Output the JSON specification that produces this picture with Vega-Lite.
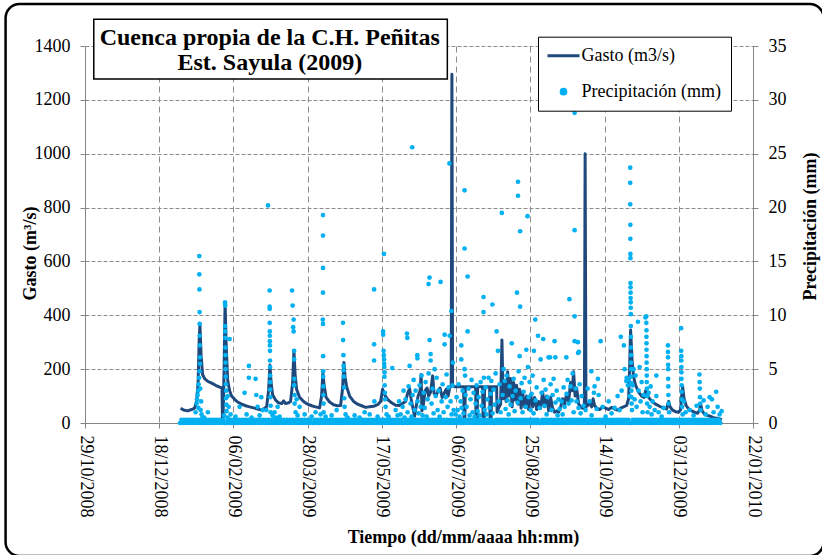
{
"$schema":"https://vega.github.io/schema/vega-lite/v6.json",
"width":668,"height":377,
"autosize":{"type":"none"},
"padding":{"left":85,"top":46,"right":69,"bottom":132},
"background":"white",
"config":{
 "font":"Liberation Serif",
 "view":{"stroke":null},
 "axis":{"labelFont":"Liberation Serif","labelFontSize":18,"labelColor":"black","titleFont":"Liberation Serif","titleFontSize":18,"titleFontWeight":"bold","titleColor":"black","domainColor":"#868686","tickColor":"#868686","tickSize":5,"gridColor":"#8C8C8C","gridWidth":1}
},
"datasets":{
"gasto":[
{"t":"2009-01-01T10:00","q":55},{"t":"2009-01-03T10:00","q":48},{"t":"2009-01-06T03:00","q":45},{"t":"2009-01-08T20:00","q":50},{"t":"2009-01-10T20:00","q":55},{"t":"2009-01-12T04:00","q":80},{"t":"2009-01-13T05:00","q":150},{"t":"2009-01-13T21:00","q":300},{"t":"2009-01-14T10:00","q":365},{"t":"2009-01-15T05:00","q":250},{"t":"2009-01-16T05:00","q":180},{"t":"2009-01-17T14:00","q":165},{"t":"2009-01-19T14:00","q":155},{"t":"2009-01-22T07:00","q":148},{"t":"2009-01-25T00:00","q":140},{"t":"2009-01-27T16:00","q":133},{"t":"2009-01-29T07:00","q":130},{"t":"2009-01-29T14:00","q":15},{"t":"2009-01-30T01:00","q":20},{"t":"2009-01-30T17:00","q":200},{"t":"2009-01-31T09:00","q":445},{"t":"2009-02-01T01:00","q":300},{"t":"2009-02-02T02:00","q":160},{"t":"2009-02-03T10:00","q":120},{"t":"2009-02-04T18:00","q":100},{"t":"2009-02-06T19:00","q":88},{"t":"2009-02-08T19:00","q":78},{"t":"2009-02-11T12:00","q":70},{"t":"2009-02-14T05:00","q":64},{"t":"2009-02-16T21:00","q":60},{"t":"2009-02-19T14:00","q":56},{"t":"2009-02-22T07:00","q":52},{"t":"2009-02-24T23:00","q":48},{"t":"2009-02-27T00:00","q":55},{"t":"2009-02-28T08:00","q":60},{"t":"2009-03-01T16:00","q":120},{"t":"2009-03-02T14:00","q":215},{"t":"2009-03-03T09:00","q":150},{"t":"2009-03-04T09:00","q":105},{"t":"2009-03-06T10:00","q":85},{"t":"2009-03-08T10:00","q":75},{"t":"2009-03-10T11:00","q":72},{"t":"2009-03-11T19:00","q":82},{"t":"2009-03-13T03:00","q":72},{"t":"2009-03-15T04:00","q":75},{"t":"2009-03-16T12:00","q":80},{"t":"2009-03-17T21:00","q":150},{"t":"2009-03-18T18:00","q":268},{"t":"2009-03-19T13:00","q":180},{"t":"2009-03-20T13:00","q":125},{"t":"2009-03-22T14:00","q":95},{"t":"2009-03-25T06:00","q":80},{"t":"2009-03-27T23:00","q":70},{"t":"2009-03-30T16:00","q":64},{"t":"2009-04-02T08:00","q":60},{"t":"2009-04-05T01:00","q":56},{"t":"2009-04-06T09:00","q":100},{"t":"2009-04-07T06:00","q":185},{"t":"2009-04-08T02:00","q":140},{"t":"2009-04-09T10:00","q":95},{"t":"2009-04-11T19:00","q":78},{"t":"2009-04-14T11:00","q":68},{"t":"2009-04-17T04:00","q":64},{"t":"2009-04-19T05:00","q":65},{"t":"2009-04-20T13:00","q":130},{"t":"2009-04-21T10:00","q":225},{"t":"2009-04-22T05:00","q":170},{"t":"2009-04-23T06:00","q":135},{"t":"2009-04-25T06:00","q":100},{"t":"2009-04-27T23:00","q":80},{"t":"2009-04-30T15:00","q":70},{"t":"2009-05-03T08:00","q":64},{"t":"2009-05-06T01:00","q":58},{"t":"2009-05-08T17:00","q":60},{"t":"2009-05-11T10:00","q":62},{"t":"2009-05-14T03:00","q":68},{"t":"2009-05-16T03:00","q":80},{"t":"2009-05-17T12:00","q":125},{"t":"2009-05-18T20:00","q":105},{"t":"2009-05-20T20:00","q":88},{"t":"2009-05-23T13:00","q":75},{"t":"2009-05-26T06:00","q":66},{"t":"2009-05-28T23:00","q":65},{"t":"2009-05-31T15:00","q":75},{"t":"2009-06-02T00:00","q":80},{"t":"2009-06-03T08:00","q":110},{"t":"2009-06-04T16:00","q":128},{"t":"2009-06-05T16:00","q":90},{"t":"2009-06-06T17:00","q":60},{"t":"2009-06-08T01:00","q":25},{"t":"2009-06-09T01:00","q":60},{"t":"2009-06-10T10:00","q":100},{"t":"2009-06-11T18:00","q":120},{"t":"2009-06-12T10:00","q":180},{"t":"2009-06-12T23:00","q":45},{"t":"2009-06-13T18:00","q":60},{"t":"2009-06-15T03:00","q":120},{"t":"2009-06-16T11:00","q":130},{"t":"2009-06-17T11:00","q":100},{"t":"2009-06-18T20:00","q":115},{"t":"2009-06-20T04:00","q":175},{"t":"2009-06-21T04:00","q":110},{"t":"2009-06-22T13:00","q":100},{"t":"2009-06-23T21:00","q":120},{"t":"2009-06-25T05:00","q":130},{"t":"2009-06-26T14:00","q":95},{"t":"2009-06-27T22:00","q":110},{"t":"2009-06-29T06:00","q":125},{"t":"2009-06-30T15:00","q":100},{"t":"2009-07-01T15:00","q":128},{"t":"2009-07-02T07:00","q":135},{"t":"2009-07-02T17:00","q":140},{"t":"2009-07-03T04:00","q":1295},{"t":"2009-07-03T15:00","q":140},{"t":"2009-07-05T00:00","q":135},{"t":"2009-07-11T01:00","q":135},{"t":"2009-07-11T09:00","q":10},{"t":"2009-07-11T21:00","q":10},{"t":"2009-07-12T05:00","q":135},{"t":"2009-07-19T03:00","q":135},{"t":"2009-07-19T11:00","q":5},{"t":"2009-07-20T04:00","q":5},{"t":"2009-07-20T12:00","q":135},{"t":"2009-07-23T20:00","q":135},{"t":"2009-07-24T05:00","q":5},{"t":"2009-07-24T21:00","q":5},{"t":"2009-07-25T05:00","q":135},{"t":"2009-07-28T14:00","q":135},{"t":"2009-07-28T22:00","q":5},{"t":"2009-07-29T14:00","q":5},{"t":"2009-07-29T22:00","q":135},{"t":"2009-08-02T07:00","q":135},{"t":"2009-08-02T15:00","q":40},{"t":"2009-08-03T15:00","q":55},{"t":"2009-08-05T00:00","q":70},{"t":"2009-08-05T21:00","q":308},{"t":"2009-08-06T16:00","q":90},{"t":"2009-08-07T16:00","q":150},{"t":"2009-08-08T16:00","q":80},{"t":"2009-08-09T17:00","q":190},{"t":"2009-08-10T17:00","q":100},{"t":"2009-08-11T17:00","q":165},{"t":"2009-08-12T17:00","q":60},{"t":"2009-08-13T18:00","q":150},{"t":"2009-08-14T18:00","q":85},{"t":"2009-08-15T18:00","q":140},{"t":"2009-08-16T18:00","q":70},{"t":"2009-08-17T19:00","q":125},{"t":"2009-08-18T19:00","q":55},{"t":"2009-08-19T19:00","q":115},{"t":"2009-08-21T04:00","q":60},{"t":"2009-08-22T12:00","q":100},{"t":"2009-08-23T20:00","q":50},{"t":"2009-08-25T05:00","q":105},{"t":"2009-08-26T13:00","q":60},{"t":"2009-08-27T21:00","q":95},{"t":"2009-08-29T06:00","q":50},{"t":"2009-08-30T14:00","q":80},{"t":"2009-08-31T22:00","q":55},{"t":"2009-09-02T07:00","q":115},{"t":"2009-09-03T15:00","q":60},{"t":"2009-09-04T23:00","q":100},{"t":"2009-09-06T08:00","q":45},{"t":"2009-09-07T16:00","q":95},{"t":"2009-09-09T00:00","q":55},{"t":"2009-09-10T09:00","q":40},{"t":"2009-09-11T17:00","q":45},{"t":"2009-09-13T01:00","q":40},{"t":"2009-09-14T10:00","q":60},{"t":"2009-09-15T18:00","q":90},{"t":"2009-09-17T02:00","q":70},{"t":"2009-09-18T11:00","q":110},{"t":"2009-09-19T19:00","q":80},{"t":"2009-09-21T03:00","q":150},{"t":"2009-09-22T04:00","q":120},{"t":"2009-09-23T04:00","q":190},{"t":"2009-09-24T04:00","q":100},{"t":"2009-09-25T04:00","q":130},{"t":"2009-09-26T13:00","q":70},{"t":"2009-09-27T21:00","q":60},{"t":"2009-09-29T05:00","q":55},{"t":"2009-09-30T10:00","q":60},{"t":"2009-09-30T22:00","q":1000},{"t":"2009-10-01T11:00","q":60},{"t":"2009-10-02T14:00","q":65},{"t":"2009-10-03T22:00","q":75},{"t":"2009-10-05T07:00","q":60},{"t":"2009-10-06T07:00","q":90},{"t":"2009-10-07T07:00","q":65},{"t":"2009-10-08T16:00","q":55},{"t":"2009-10-10T16:00","q":50},{"t":"2009-10-12T17:00","q":60},{"t":"2009-10-14T17:00","q":55},{"t":"2009-10-16T18:00","q":50},{"t":"2009-10-18T18:00","q":58},{"t":"2009-10-20T19:00","q":52},{"t":"2009-10-22T19:00","q":48},{"t":"2009-10-24T20:00","q":55},{"t":"2009-10-26T20:00","q":60},{"t":"2009-10-28T21:00","q":65},{"t":"2009-10-30T05:00","q":90},{"t":"2009-10-30T21:00","q":200},{"t":"2009-10-31T13:00","q":345},{"t":"2009-11-01T14:00","q":230},{"t":"2009-11-02T14:00","q":170},{"t":"2009-11-03T22:00","q":140},{"t":"2009-11-05T23:00","q":115},{"t":"2009-11-07T23:00","q":100},{"t":"2009-11-09T16:00","q":95},{"t":"2009-11-10T16:00","q":120},{"t":"2009-11-11T16:00","q":105},{"t":"2009-11-13T09:00","q":90},{"t":"2009-11-15T09:00","q":78},{"t":"2009-11-17T10:00","q":70},{"t":"2009-11-20T02:00","q":62},{"t":"2009-11-22T19:00","q":56},{"t":"2009-11-24T19:00","q":52},{"t":"2009-11-26T04:00","q":80},{"t":"2009-11-27T04:00","q":60},{"t":"2009-11-28T20:00","q":48},{"t":"2009-11-30T21:00","q":42},{"t":"2009-12-02T21:00","q":40},{"t":"2009-12-04T06:00","q":50},{"t":"2009-12-04T22:00","q":100},{"t":"2009-12-05T14:00","q":135},{"t":"2009-12-06T14:00","q":90},{"t":"2009-12-07T23:00","q":65},{"t":"2009-12-09T15:00","q":52},{"t":"2009-12-11T16:00","q":45},{"t":"2009-12-13T16:00","q":40},{"t":"2009-12-15T17:00","q":36},{"t":"2009-12-17T01:00","q":48},{"t":"2009-12-17T17:00","q":70},{"t":"2009-12-18T17:00","q":45},{"t":"2009-12-20T10:00","q":32},{"t":"2009-12-22T10:00","q":28},{"t":"2009-12-24T11:00","q":24},{"t":"2009-12-26T11:00","q":20},{"t":"2009-12-28T12:00","q":18},{"t":"2009-12-30T12:00","q":15},{"t":"2009-12-31T23:00","q":12}
],
"precip":[
{"t":"2009-01-01","p":0},{"t":"2009-01-02","p":0.3},{"t":"2009-01-03","p":0},{"t":"2009-01-04","p":0.3},{"t":"2009-01-05","p":0},{"t":"2009-01-06","p":0.3},{"t":"2009-01-07","p":0},{"t":"2009-01-08","p":0.3},{"t":"2009-01-09","p":0},{"t":"2009-01-10","p":0.3},{"t":"2009-01-11","p":0},{"t":"2009-01-12","p":0.3},{"t":"2009-01-13","p":0},{"t":"2009-01-14","p":0.3},{"t":"2009-01-15","p":0},{"t":"2009-01-16","p":0.3},{"t":"2009-01-17","p":0},{"t":"2009-01-18","p":0.3},{"t":"2009-01-19","p":0},{"t":"2009-01-20","p":0.3},{"t":"2009-01-21","p":0},{"t":"2009-01-22","p":0.3},{"t":"2009-01-23","p":0},{"t":"2009-01-24","p":0.3},{"t":"2009-01-25","p":0},{"t":"2009-01-26","p":0.3},{"t":"2009-01-27","p":0},{"t":"2009-01-28","p":0.3},{"t":"2009-01-29","p":0},{"t":"2009-01-30","p":0.3},{"t":"2009-01-31","p":0},
{"t":"2009-02-01","p":0},{"t":"2009-02-02","p":0.3},{"t":"2009-02-03","p":0},{"t":"2009-02-04","p":0.3},{"t":"2009-02-05","p":0},{"t":"2009-02-06","p":0.3},{"t":"2009-02-07","p":0},{"t":"2009-02-08","p":0.3},{"t":"2009-02-09","p":0},{"t":"2009-02-10","p":0.3},{"t":"2009-02-11","p":0},{"t":"2009-02-12","p":0.3},{"t":"2009-02-13","p":0},{"t":"2009-02-14","p":0.3},{"t":"2009-02-15","p":0},{"t":"2009-02-16","p":0.3},{"t":"2009-02-17","p":0},{"t":"2009-02-18","p":0.3},{"t":"2009-02-19","p":0},{"t":"2009-02-20","p":0.3},{"t":"2009-02-21","p":0},{"t":"2009-02-22","p":0.3},{"t":"2009-02-23","p":0},{"t":"2009-02-24","p":0.3},{"t":"2009-02-25","p":0},{"t":"2009-02-26","p":0.3},{"t":"2009-02-27","p":0},{"t":"2009-02-28","p":0.3},
{"t":"2009-03-01","p":0},{"t":"2009-03-02","p":0.3},{"t":"2009-03-03","p":0},{"t":"2009-03-04","p":0.3},{"t":"2009-03-05","p":0},{"t":"2009-03-06","p":0.3},{"t":"2009-03-07","p":0},{"t":"2009-03-08","p":0.3},{"t":"2009-03-09","p":0},{"t":"2009-03-10","p":0.3},{"t":"2009-03-11","p":0},{"t":"2009-03-12","p":0.3},{"t":"2009-03-13","p":0},{"t":"2009-03-14","p":0.3},{"t":"2009-03-15","p":0},{"t":"2009-03-16","p":0.3},{"t":"2009-03-17","p":0},{"t":"2009-03-18","p":0.3},{"t":"2009-03-19","p":0},{"t":"2009-03-20","p":0.3},{"t":"2009-03-21","p":0},{"t":"2009-03-22","p":0.3},{"t":"2009-03-23","p":0},{"t":"2009-03-24","p":0.3},{"t":"2009-03-25","p":0},{"t":"2009-03-26","p":0.3},{"t":"2009-03-27","p":0},{"t":"2009-03-28","p":0.3},{"t":"2009-03-29","p":0},{"t":"2009-03-30","p":0.3},{"t":"2009-03-31","p":0},
{"t":"2009-04-01","p":0},{"t":"2009-04-02","p":0.3},{"t":"2009-04-03","p":0},{"t":"2009-04-04","p":0.3},{"t":"2009-04-05","p":0},{"t":"2009-04-06","p":0.3},{"t":"2009-04-07","p":0},{"t":"2009-04-08","p":0.3},{"t":"2009-04-09","p":0},{"t":"2009-04-10","p":0.3},{"t":"2009-04-11","p":0},{"t":"2009-04-12","p":0.3},{"t":"2009-04-13","p":0},{"t":"2009-04-14","p":0.3},{"t":"2009-04-15","p":0},{"t":"2009-04-16","p":0.3},{"t":"2009-04-17","p":0},{"t":"2009-04-18","p":0.3},{"t":"2009-04-19","p":0},{"t":"2009-04-20","p":0.3},{"t":"2009-04-21","p":0},{"t":"2009-04-22","p":0.3},{"t":"2009-04-23","p":0},{"t":"2009-04-24","p":0.3},{"t":"2009-04-25","p":0},{"t":"2009-04-26","p":0.3},{"t":"2009-04-27","p":0},{"t":"2009-04-28","p":0.3},{"t":"2009-04-29","p":0},{"t":"2009-04-30","p":0.3},
{"t":"2009-05-01","p":0},{"t":"2009-05-02","p":0.3},{"t":"2009-05-03","p":0},{"t":"2009-05-04","p":0.3},{"t":"2009-05-05","p":0},{"t":"2009-05-06","p":0.3},{"t":"2009-05-07","p":0},{"t":"2009-05-08","p":0.3},{"t":"2009-05-09","p":0},{"t":"2009-05-10","p":0.3},{"t":"2009-05-11","p":0},{"t":"2009-05-12","p":0.3},{"t":"2009-05-13","p":0},{"t":"2009-05-14","p":0.3},{"t":"2009-05-15","p":0},{"t":"2009-05-16","p":0.3},{"t":"2009-05-17","p":0},{"t":"2009-05-18","p":0.3},{"t":"2009-05-19","p":0},{"t":"2009-05-20","p":0.3},{"t":"2009-05-21","p":0},{"t":"2009-05-22","p":0.3},{"t":"2009-05-23","p":0},{"t":"2009-05-24","p":0.3},{"t":"2009-05-25","p":0},{"t":"2009-05-26","p":0.3},{"t":"2009-05-27","p":0},{"t":"2009-05-28","p":0.3},{"t":"2009-05-29","p":0},{"t":"2009-05-30","p":0.3},{"t":"2009-05-31","p":0},
{"t":"2009-06-01","p":0},{"t":"2009-06-02","p":0.3},{"t":"2009-06-03","p":0},{"t":"2009-06-04","p":0.3},{"t":"2009-06-05","p":0},{"t":"2009-06-06","p":0.3},{"t":"2009-06-07","p":0},{"t":"2009-06-08","p":0.3},{"t":"2009-06-09","p":0},{"t":"2009-06-10","p":0.3},{"t":"2009-06-11","p":0},{"t":"2009-06-12","p":0.3},{"t":"2009-06-13","p":0},{"t":"2009-06-14","p":0.3},{"t":"2009-06-15","p":0},{"t":"2009-06-16","p":0.3},{"t":"2009-06-17","p":0},{"t":"2009-06-18","p":0.3},{"t":"2009-06-19","p":0},{"t":"2009-06-20","p":0.3},{"t":"2009-06-21","p":0},{"t":"2009-06-22","p":0.3},{"t":"2009-06-23","p":0},{"t":"2009-06-24","p":0.3},{"t":"2009-06-25","p":0},{"t":"2009-06-26","p":0.3},{"t":"2009-06-27","p":0},{"t":"2009-06-28","p":0.3},{"t":"2009-06-29","p":0},{"t":"2009-06-30","p":0.3},
{"t":"2009-07-01","p":0},{"t":"2009-07-02","p":0.3},{"t":"2009-07-03","p":0},{"t":"2009-07-04","p":0.3},{"t":"2009-07-05","p":0},{"t":"2009-07-06","p":0.3},{"t":"2009-07-07","p":0},{"t":"2009-07-08","p":0.3},{"t":"2009-07-09","p":0},{"t":"2009-07-10","p":0.3},{"t":"2009-07-11","p":0},{"t":"2009-07-12","p":0.3},{"t":"2009-07-13","p":0},{"t":"2009-07-14","p":0.3},{"t":"2009-07-15","p":0},{"t":"2009-07-16","p":0.3},{"t":"2009-07-17","p":0},{"t":"2009-07-18","p":0.3},{"t":"2009-07-19","p":0},{"t":"2009-07-20","p":0.3},{"t":"2009-07-21","p":0},{"t":"2009-07-22","p":0.3},{"t":"2009-07-23","p":0},{"t":"2009-07-24","p":0.3},{"t":"2009-07-25","p":0},{"t":"2009-07-26","p":0.3},{"t":"2009-07-27","p":0},{"t":"2009-07-28","p":0.3},{"t":"2009-07-29","p":0},{"t":"2009-07-30","p":0.3},{"t":"2009-07-31","p":0},
{"t":"2009-08-01","p":0},{"t":"2009-08-02","p":0.3},{"t":"2009-08-03","p":0},{"t":"2009-08-04","p":0.3},{"t":"2009-08-05","p":0},{"t":"2009-08-06","p":0.3},{"t":"2009-08-07","p":0},{"t":"2009-08-08","p":0.3},{"t":"2009-08-09","p":0},{"t":"2009-08-10","p":0.3},{"t":"2009-08-11","p":0},{"t":"2009-08-12","p":0.3},{"t":"2009-08-13","p":0},{"t":"2009-08-14","p":0.3},{"t":"2009-08-15","p":0},{"t":"2009-08-16","p":0.3},{"t":"2009-08-17","p":0},{"t":"2009-08-18","p":0.3},{"t":"2009-08-19","p":0},{"t":"2009-08-20","p":0.3},{"t":"2009-08-21","p":0},{"t":"2009-08-22","p":0.3},{"t":"2009-08-23","p":0},{"t":"2009-08-24","p":0.3},{"t":"2009-08-25","p":0},{"t":"2009-08-26","p":0.3},{"t":"2009-08-27","p":0},{"t":"2009-08-28","p":0.3},{"t":"2009-08-29","p":0},{"t":"2009-08-30","p":0.3},{"t":"2009-08-31","p":0},
{"t":"2009-09-01","p":0},{"t":"2009-09-02","p":0.3},{"t":"2009-09-03","p":0},{"t":"2009-09-04","p":0.3},{"t":"2009-09-05","p":0},{"t":"2009-09-06","p":0.3},{"t":"2009-09-07","p":0},{"t":"2009-09-08","p":0.3},{"t":"2009-09-09","p":0},{"t":"2009-09-10","p":0.3},{"t":"2009-09-11","p":0},{"t":"2009-09-12","p":0.3},{"t":"2009-09-13","p":0},{"t":"2009-09-14","p":0.3},{"t":"2009-09-15","p":0},{"t":"2009-09-16","p":0.3},{"t":"2009-09-17","p":0},{"t":"2009-09-18","p":0.3},{"t":"2009-09-19","p":0},{"t":"2009-09-20","p":0.3},{"t":"2009-09-21","p":0},{"t":"2009-09-22","p":0.3},{"t":"2009-09-23","p":0},{"t":"2009-09-24","p":0.3},{"t":"2009-09-25","p":0},{"t":"2009-09-26","p":0.3},{"t":"2009-09-27","p":0},{"t":"2009-09-28","p":0.3},{"t":"2009-09-29","p":0},{"t":"2009-09-30","p":0.3},
{"t":"2009-10-01","p":0},{"t":"2009-10-02","p":0.3},{"t":"2009-10-03","p":0},{"t":"2009-10-04","p":0.3},{"t":"2009-10-05","p":0},{"t":"2009-10-06","p":0.3},{"t":"2009-10-07","p":0},{"t":"2009-10-08","p":0.3},{"t":"2009-10-09","p":0},{"t":"2009-10-10","p":0.3},{"t":"2009-10-11","p":0},{"t":"2009-10-12","p":0.3},{"t":"2009-10-13","p":0},{"t":"2009-10-14","p":0.3},{"t":"2009-10-15","p":0},{"t":"2009-10-16","p":0.3},{"t":"2009-10-17","p":0},{"t":"2009-10-18","p":0.3},{"t":"2009-10-19","p":0},{"t":"2009-10-20","p":0.3},{"t":"2009-10-21","p":0},{"t":"2009-10-22","p":0.3},{"t":"2009-10-23","p":0},{"t":"2009-10-24","p":0.3},{"t":"2009-10-25","p":0},{"t":"2009-10-26","p":0.3},{"t":"2009-10-27","p":0},{"t":"2009-10-28","p":0.3},{"t":"2009-10-29","p":0},{"t":"2009-10-30","p":0.3},{"t":"2009-10-31","p":0},
{"t":"2009-11-01","p":0},{"t":"2009-11-02","p":0.3},{"t":"2009-11-03","p":0},{"t":"2009-11-04","p":0.3},{"t":"2009-11-05","p":0},{"t":"2009-11-06","p":0.3},{"t":"2009-11-07","p":0},{"t":"2009-11-08","p":0.3},{"t":"2009-11-09","p":0},{"t":"2009-11-10","p":0.3},{"t":"2009-11-11","p":0},{"t":"2009-11-12","p":0.3},{"t":"2009-11-13","p":0},{"t":"2009-11-14","p":0.3},{"t":"2009-11-15","p":0},{"t":"2009-11-16","p":0.3},{"t":"2009-11-17","p":0},{"t":"2009-11-18","p":0.3},{"t":"2009-11-19","p":0},{"t":"2009-11-20","p":0.3},{"t":"2009-11-21","p":0},{"t":"2009-11-22","p":0.3},{"t":"2009-11-23","p":0},{"t":"2009-11-24","p":0.3},{"t":"2009-11-25","p":0},{"t":"2009-11-26","p":0.3},{"t":"2009-11-27","p":0},{"t":"2009-11-28","p":0.3},{"t":"2009-11-29","p":0},{"t":"2009-11-30","p":0.3},
{"t":"2009-12-01","p":0},{"t":"2009-12-02","p":0.3},{"t":"2009-12-03","p":0},{"t":"2009-12-04","p":0.3},{"t":"2009-12-05","p":0},{"t":"2009-12-06","p":0.3},{"t":"2009-12-07","p":0},{"t":"2009-12-08","p":0.3},{"t":"2009-12-09","p":0},{"t":"2009-12-10","p":0.3},{"t":"2009-12-11","p":0},{"t":"2009-12-12","p":0.3},{"t":"2009-12-13","p":0},{"t":"2009-12-14","p":0.3},{"t":"2009-12-15","p":0},{"t":"2009-12-16","p":0.3},{"t":"2009-12-17","p":0},{"t":"2009-12-18","p":0.3},{"t":"2009-12-19","p":0},{"t":"2009-12-20","p":0.3},{"t":"2009-12-21","p":0},{"t":"2009-12-22","p":0.3},{"t":"2009-12-23","p":0},{"t":"2009-12-24","p":0.3},{"t":"2009-12-25","p":0},{"t":"2009-12-26","p":0.3},{"t":"2009-12-27","p":0},{"t":"2009-12-28","p":0.3},{"t":"2009-12-29","p":0},{"t":"2009-12-30","p":0.3},{"t":"2009-12-31","p":0},
{"t":"2009-01-14T00:00","p":15.5},{"t":"2009-01-14T00:00","p":13.8},{"t":"2009-01-14T02:00","p":12.4},{"t":"2009-01-14T05:00","p":10.3},{"t":"2009-01-14T05:00","p":9.2},{"t":"2009-01-14T06:00","p":8.1},{"t":"2009-01-14T08:00","p":7.2},{"t":"2009-01-14T10:00","p":6.1},{"t":"2009-01-14T11:00","p":5.5},{"t":"2009-01-14T05:00","p":4.8},{"t":"2009-01-13T21:00","p":4.2},{"t":"2009-01-13T13:00","p":3.6},{"t":"2009-01-13T05:00","p":3.0},{"t":"2009-01-12T21:00","p":2.6},{"t":"2009-01-12T12:00","p":2.2},{"t":"2009-01-12T04:00","p":1.8},{"t":"2009-01-13T10:00","p":1.4},{"t":"2009-01-14T21:00","p":1.2},{"t":"2009-01-15T13:00","p":0.8},{"t":"2009-01-16T05:00","p":0.5},{"t":"2009-01-11T12:00","p":1.0},{"t":"2009-01-17T06:00","p":0.5},{"t":"2009-01-19T19:00","p":1.0},{"t":"2009-01-15T05:00","p":2.0},{"t":"2009-01-14T15:00","p":3.2},
{"t":"2009-01-31T08:00","p":11.2},{"t":"2009-01-31T11:00","p":10.9},{"t":"2009-01-31T09:00","p":9.0},{"t":"2009-01-31T11:00","p":8.5},{"t":"2009-01-31T12:00","p":7.9},{"t":"2009-01-31T14:00","p":7.0},{"t":"2009-01-31T17:00","p":6.3},{"t":"2009-01-31T17:00","p":5.6},{"t":"2009-01-31T17:00","p":5.0},{"t":"2009-01-31T20:00","p":4.3},{"t":"2009-01-31T22:00","p":3.6},{"t":"2009-02-01T01:00","p":3.0},{"t":"2009-01-31T23:00","p":2.3},{"t":"2009-02-01T06:00","p":1.7},{"t":"2009-02-01T09:00","p":1.1},{"t":"2009-01-30T17:00","p":0.7},{"t":"2009-02-02T02:00","p":0.5},{"t":"2009-02-03T10:00","p":7.8},{"t":"2009-02-02T02:00","p":2.5},{"t":"2009-02-02T18:00","p":1.5},{"t":"2009-02-04T02:00","p":0.8},
{"t":"2009-02-07T11:00","p":0.6},{"t":"2009-02-10T04:00","p":1.5},{"t":"2009-02-13T12:00","p":2.8},{"t":"2009-02-14T21:00","p":0.8},{"t":"2009-02-16T10:00","p":5.3},{"t":"2009-02-16T10:00","p":4.2},{"t":"2009-02-18T06:00","p":0.5},{"t":"2009-02-20T22:00","p":4.1},{"t":"2009-02-21T10:00","p":2.6},{"t":"2009-02-22T07:00","p":1.5},{"t":"2009-02-23T15:00","p":0.7},{"t":"2009-02-24T18:00","p":2.4},{"t":"2009-02-25T15:00","p":1.2},{"t":"2009-02-28T03:00","p":1.2},
{"t":"2009-03-01T07:00","p":20.2},{"t":"2009-03-02T09:00","p":12.3},{"t":"2009-03-02T09:00","p":10.8},{"t":"2009-03-02T10:00","p":10.6},{"t":"2009-03-02T10:00","p":9.3},{"t":"2009-03-02T12:00","p":8.5},{"t":"2009-03-02T12:00","p":8.1},{"t":"2009-03-02T13:00","p":7.6},{"t":"2009-03-02T13:00","p":7.2},{"t":"2009-03-02T15:00","p":6.7},{"t":"2009-03-02T15:00","p":5.8},{"t":"2009-03-02T17:00","p":5.2},{"t":"2009-03-02T17:00","p":4.4},{"t":"2009-03-02T18:00","p":3.8},{"t":"2009-03-02T18:00","p":3.1},{"t":"2009-03-02T20:00","p":2.4},{"t":"2009-03-03T01:00","p":1.6},{"t":"2009-03-03T01:00","p":1.0},{"t":"2009-03-04T09:00","p":0.7},{"t":"2009-03-05T17:00","p":1.0},{"t":"2009-03-06T10:00","p":0.5},{"t":"2009-03-07T18:00","p":1.5},{"t":"2009-03-09T02:00","p":0.6},
{"t":"2009-03-17T12:00","p":12.3},{"t":"2009-03-17T21:00","p":10.9},{"t":"2009-03-18T13:00","p":9.6},{"t":"2009-03-18T05:00","p":8.9},{"t":"2009-03-18T13:00","p":8.5},{"t":"2009-03-18T21:00","p":6.7},{"t":"2009-03-18T21:00","p":5.9},{"t":"2009-03-19T00:00","p":4.1},{"t":"2009-03-18T21:00","p":3.5},{"t":"2009-03-19T05:00","p":2.6},{"t":"2009-03-19T05:00","p":1.8},{"t":"2009-03-19T21:00","p":1.0},{"t":"2009-03-21T05:00","p":0.7},{"t":"2009-03-22T14:00","p":1.5},{"t":"2009-03-20T13:00","p":2.2},{"t":"2009-03-25T23:00","p":0.8},{"t":"2009-03-30T16:00","p":0.6},{"t":"2009-04-02T08:00","p":1.0},
{"t":"2009-04-07T08:00","p":19.3},{"t":"2009-04-07T08:00","p":17.4},{"t":"2009-04-07T08:00","p":14.4},{"t":"2009-04-07T08:00","p":12.1},{"t":"2009-04-07T05:00","p":9.6},{"t":"2009-04-07T08:00","p":9.2},{"t":"2009-04-07T10:00","p":6.2},{"t":"2009-04-07T11:00","p":4.8},{"t":"2009-04-07T11:00","p":4.3},{"t":"2009-04-07T13:00","p":3.4},{"t":"2009-04-07T14:00","p":2.6},{"t":"2009-04-07T18:00","p":1.8},{"t":"2009-04-07T18:00","p":1.0},{"t":"2009-04-09T02:00","p":0.6},{"t":"2009-04-05T17:00","p":0.8},{"t":"2009-04-13T03:00","p":0.7},{"t":"2009-04-16T12:00","p":1.2},
{"t":"2009-04-20T19:00","p":9.3},{"t":"2009-04-20T21:00","p":7.7},{"t":"2009-04-21T02:00","p":6.3},{"t":"2009-04-21T05:00","p":5.3},{"t":"2009-04-21T05:00","p":4.9},{"t":"2009-04-21T08:00","p":4.3},{"t":"2009-04-21T12:00","p":3.3},{"t":"2009-04-21T15:00","p":2.3},{"t":"2009-04-21T21:00","p":1.5},{"t":"2009-04-22T13:00","p":0.8},{"t":"2009-04-23T22:00","p":0.5},{"t":"2009-04-28T15:00","p":0.7},
{"t":"2009-05-01T23:00","p":0.5},{"t":"2009-05-05T09:00","p":1.0},{"t":"2009-05-08T18:00","p":0.8},{"t":"2009-05-11T18:00","p":12.4},{"t":"2009-05-11T18:00","p":7.3},{"t":"2009-05-11T18:00","p":5.8},{"t":"2009-05-11T23:00","p":2.0},{"t":"2009-05-14T03:00","p":0.6},
{"t":"2009-05-18T09:00","p":15.7},{"t":"2009-05-17T20:00","p":8.5},{"t":"2009-05-17T21:00","p":8.2},{"t":"2009-05-18T04:00","p":6.7},{"t":"2009-05-18T07:00","p":6.3},{"t":"2009-05-18T12:00","p":5.9},{"t":"2009-05-18T13:00","p":5.5},{"t":"2009-05-18T15:00","p":5.2},{"t":"2009-05-18T20:00","p":4.7},{"t":"2009-05-18T17:00","p":4.3},{"t":"2009-05-18T20:00","p":3.5},{"t":"2009-05-19T01:00","p":2.8},{"t":"2009-05-19T04:00","p":2.2},{"t":"2009-05-19T12:00","p":1.5},{"t":"2009-05-20T04:00","p":0.8},{"t":"2009-05-24T00:00","p":5.1},{"t":"2009-05-21T13:00","p":0.6},{"t":"2009-05-26T06:00","p":1.2},{"t":"2009-05-27T14:00","p":0.7},{"t":"2009-05-28T14:00","p":2.0},
{"t":"2009-06-02T21:00","p":8.3},{"t":"2009-06-03T03:00","p":7.9},{"t":"2009-06-04T16:00","p":5.3},{"t":"2009-06-06T10:00","p":25.6},{"t":"2009-06-09T21:00","p":6.3},{"t":"2009-06-09T22:00","p":6.0},{"t":"2009-06-17T11:00","p":12.9},{"t":"2009-06-18T02:00","p":13.5},{"t":"2009-06-18T03:00","p":7.7},{"t":"2009-06-18T20:00","p":6.4},{"t":"2009-06-18T20:00","p":5.8},{"t":"2009-06-21T12:00","p":5.0},{"t":"2009-06-25T13:00","p":13.1},{"t":"2009-06-28T06:00","p":8.2},{"t":"2009-06-28T06:00","p":7.3},{"t":"2009-07-01T12:00","p":24.1},{"t":"2009-07-01T15:00","p":8.1},{"t":"2009-07-02T18:00","p":10.4},{"t":"2009-07-03T20:00","p":5.6},
{"t":"2009-05-29T15:00","p":0.8},{"t":"2009-05-30T23:00","p":1.5},{"t":"2009-05-31T15:00","p":3.0},{"t":"2009-06-01T07:00","p":0.5},{"t":"2009-06-01T23:00","p":2.2},{"t":"2009-06-03T08:00","p":1.0},{"t":"2009-06-04T00:00","p":3.4},{"t":"2009-06-05T08:00","p":1.8},{"t":"2009-06-06T00:00","p":0.6},{"t":"2009-06-06T17:00","p":2.6},{"t":"2009-06-07T09:00","p":4.0},{"t":"2009-06-08T01:00","p":1.2},{"t":"2009-06-08T17:00","p":3.0},{"t":"2009-06-10T01:00","p":2.0},{"t":"2009-06-10T18:00","p":0.9},{"t":"2009-06-11T10:00","p":3.5},{"t":"2009-06-12T02:00","p":1.5},{"t":"2009-06-12T18:00","p":4.4},{"t":"2009-06-13T10:00","p":0.7},{"t":"2009-06-14T02:00","p":2.8},{"t":"2009-06-14T19:00","p":1.4},{"t":"2009-06-15T11:00","p":3.8},{"t":"2009-06-16T03:00","p":0.6},{"t":"2009-06-16T19:00","p":2.2},{"t":"2009-06-17T11:00","p":4.6},{"t":"2009-06-19T12:00","p":1.8},{"t":"2009-06-20T04:00","p":3.2},{"t":"2009-06-20T20:00","p":0.9},{"t":"2009-06-22T05:00","p":2.5},{"t":"2009-06-22T21:00","p":4.2},{"t":"2009-06-23T13:00","p":1.2},{"t":"2009-06-24T05:00","p":3.0},{"t":"2009-06-24T21:00","p":0.6},{"t":"2009-06-26T06:00","p":2.0},{"t":"2009-06-26T22:00","p":3.6},{"t":"2009-06-27T14:00","p":1.0},{"t":"2009-06-28T22:00","p":2.4},{"t":"2009-06-29T14:00","p":4.5},{"t":"2009-06-30T06:00","p":1.5},{"t":"2009-06-30T23:00","p":3.3},{"t":"2009-07-02T07:00","p":2.0},{"t":"2009-07-02T23:00","p":0.8},{"t":"2009-07-03T15:00","p":3.5},{"t":"2009-07-04T08:00","p":1.2},
{"t":"2009-07-11T17:00","p":21.6},{"t":"2009-07-11T17:00","p":16.2},{"t":"2009-07-13T18:00","p":13.6},{"t":"2009-07-13T18:00","p":8.5},{"t":"2009-07-24T11:00","p":11.7},{"t":"2009-07-24T11:00","p":10.3},{"t":"2009-07-30T11:00","p":11.0},{"t":"2009-08-02T07:00","p":8.5},{"t":"2009-08-03T04:00","p":6.7},{"t":"2009-08-05T19:00","p":19.5},{"t":"2009-08-12T12:00","p":7.4},{"t":"2009-08-16T00:00","p":12.1},{"t":"2009-08-16T17:00","p":22.4},{"t":"2009-08-16T17:00","p":21.1},{"t":"2009-08-18T03:00","p":17.8},{"t":"2009-08-18T03:00","p":10.8},{"t":"2009-08-17T19:00","p":6.2},{"t":"2009-08-22T07:00","p":6.8},{"t":"2009-08-23T02:00","p":19.2},{"t":"2009-08-23T09:00","p":5.2},{"t":"2009-08-27T10:00","p":6.7},{"t":"2009-08-28T08:00","p":9.6},{"t":"2009-08-30T04:00","p":8.1},{"t":"2009-08-31T22:00","p":5.9},{"t":"2009-09-02T16:00","p":7.8},{"t":"2009-09-06T07:00","p":6.1},{"t":"2009-09-07T06:00","p":6.1},{"t":"2009-09-10T20:00","p":6.1},{"t":"2009-09-10T08:00","p":7.6},{"t":"2009-07-09T12:00","p":7.2},{"t":"2009-07-09T12:00","p":5.9},{"t":"2009-07-11T17:00","p":5.0},{"t":"2009-07-12T01:00","p":4.4},{"t":"2009-07-24T17:00","p":4.2},{"t":"2009-07-29T17:00","p":3.9},{"t":"2009-08-07T00:00","p":5.0},
{"t":"2009-07-05T16:00","p":0.8},{"t":"2009-07-06T08:00","p":2.4},{"t":"2009-07-07T00:00","p":1.2},{"t":"2009-07-07T16:00","p":3.6},{"t":"2009-07-08T08:00","p":0.6},{"t":"2009-07-09T01:00","p":2.0},{"t":"2009-07-09T17:00","p":1.4},{"t":"2009-07-10T09:00","p":3.0},{"t":"2009-07-11T01:00","p":0.9},{"t":"2009-07-12T09:00","p":2.6},{"t":"2009-07-13T02:00","p":1.5},{"t":"2009-07-14T10:00","p":3.2},{"t":"2009-07-15T02:00","p":0.7},{"t":"2009-07-15T18:00","p":2.2},{"t":"2009-07-16T10:00","p":4.0},{"t":"2009-07-17T03:00","p":1.0},{"t":"2009-07-17T19:00","p":2.8},{"t":"2009-07-18T11:00","p":0.6},{"t":"2009-07-19T03:00","p":1.8},{"t":"2009-07-19T19:00","p":3.5},{"t":"2009-07-20T11:00","p":1.1},{"t":"2009-07-21T04:00","p":2.4},{"t":"2009-07-21T20:00","p":0.7},{"t":"2009-07-22T12:00","p":3.8},{"t":"2009-07-23T04:00","p":1.6},{"t":"2009-07-23T20:00","p":2.9},{"t":"2009-07-25T05:00","p":1.2},{"t":"2009-07-25T21:00","p":3.3},{"t":"2009-07-26T13:00","p":0.8},{"t":"2009-07-27T05:00","p":2.2},{"t":"2009-07-27T21:00","p":4.2},{"t":"2009-07-28T13:00","p":1.4},{"t":"2009-07-29T06:00","p":2.7},{"t":"2009-07-30T14:00","p":0.9},{"t":"2009-07-31T06:00","p":3.1},{"t":"2009-07-31T23:00","p":1.7},{"t":"2009-08-01T15:00","p":4.6},{"t":"2009-08-03T15:00","p":2.0},{"t":"2009-08-04T07:00","p":3.6},{"t":"2009-08-04T23:00","p":1.0},{"t":"2009-08-06T08:00","p":2.6},{"t":"2009-08-07T16:00","p":3.9},{"t":"2009-08-08T08:00","p":1.3},{"t":"2009-08-09T00:00","p":4.4},{"t":"2009-08-09T17:00","p":2.1},{"t":"2009-08-10T09:00","p":0.8},{"t":"2009-08-11T01:00","p":3.4},{"t":"2009-08-11T17:00","p":1.7},{"t":"2009-08-13T01:00","p":2.5},{"t":"2009-08-13T18:00","p":4.1},{"t":"2009-08-14T10:00","p":1.1},{"t":"2009-08-15T02:00","p":3.0},{"t":"2009-08-16T10:00","p":1.9},{"t":"2009-08-17T02:00","p":4.8},{"t":"2009-08-18T11:00","p":2.3},{"t":"2009-08-19T03:00","p":3.7},{"t":"2009-08-19T19:00","p":1.0},{"t":"2009-08-20T11:00","p":2.9},{"t":"2009-08-21T03:00","p":4.2},{"t":"2009-08-21T20:00","p":1.5},{"t":"2009-08-23T20:00","p":2.4},{"t":"2009-08-24T12:00","p":3.8},{"t":"2009-08-25T05:00","p":1.2},{"t":"2009-08-25T21:00","p":2.7},{"t":"2009-08-26T13:00","p":4.4},{"t":"2009-08-27T05:00","p":0.9},{"t":"2009-08-28T13:00","p":2.1},{"t":"2009-08-29T06:00","p":3.3},{"t":"2009-08-31T06:00","p":1.4},{"t":"2009-09-01T14:00","p":2.8},{"t":"2009-09-02T23:00","p":4.0},{"t":"2009-09-03T15:00","p":1.6},{"t":"2009-09-04T07:00","p":3.1},{"t":"2009-09-04T23:00","p":0.8},{"t":"2009-09-05T15:00","p":2.4},{"t":"2009-09-07T16:00","p":3.6},{"t":"2009-09-08T08:00","p":1.2},{"t":"2009-09-09T00:00","p":2.6},{"t":"2009-09-09T16:00","p":4.1},{"t":"2009-09-11T00:00","p":1.9},{"t":"2009-09-11T17:00","p":3.0},{"t":"2009-09-12T09:00","p":0.7},{"t":"2009-09-13T01:00","p":2.2},{"t":"2009-09-13T17:00","p":1.3},{"t":"2009-09-15T01:00","p":2.0},{"t":"2009-09-15T18:00","p":0.8},{"t":"2009-09-16T10:00","p":3.3},{"t":"2009-09-17T02:00","p":1.5},{"t":"2009-09-18T10:00","p":2.7},{"t":"2009-09-19T03:00","p":4.0},{"t":"2009-09-19T19:00","p":1.8},{"t":"2009-09-21T03:00","p":3.4},{"t":"2009-09-21T19:00","p":2.1},{"t":"2009-09-22T12:00","p":4.6},{"t":"2009-09-23T04:00","p":1.0},{"t":"2009-09-24T12:00","p":3.2},{"t":"2009-09-25T04:00","p":2.0},{"t":"2009-09-26T12:00","p":1.4},{"t":"2009-09-27T05:00","p":3.6},{"t":"2009-09-27T21:00","p":0.9},{"t":"2009-09-28T13:00","p":2.5},{"t":"2009-09-29T21:00","p":1.6},
{"t":"2009-09-18T06:00","p":6.1},{"t":"2009-09-20T08:00","p":11.5},{"t":"2009-09-23T20:00","p":28.8},{"t":"2009-09-23T20:00","p":17.9},{"t":"2009-09-23T20:00","p":9.9},{"t":"2009-09-23T20:00","p":7.6},{"t":"2009-09-26T01:00","p":7.5},{"t":"2009-09-26T17:00","p":6.6},{"t":"2009-09-26T04:00","p":6.5},{"t":"2009-10-05T02:00","p":4.8},{"t":"2009-10-09T13:00","p":4.1},{"t":"2009-10-11T08:00","p":7.6},{"t":"2009-10-06T20:00","p":2.8},
{"t":"2009-10-01T06:00","p":1.2},{"t":"2009-10-02T14:00","p":3.2},{"t":"2009-10-03T22:00","p":2.0},{"t":"2009-10-05T07:00","p":0.7},{"t":"2009-10-07T07:00","p":3.4},{"t":"2009-10-08T16:00","p":1.3},{"t":"2009-10-10T00:00","p":2.6},{"t":"2009-10-12T17:00","p":1.5},{"t":"2009-10-14T17:00","p":0.6},{"t":"2009-10-16T18:00","p":2.0},{"t":"2009-10-18T18:00","p":0.9},{"t":"2009-10-20T19:00","p":1.4},{"t":"2009-10-22T19:00","p":2.5},{"t":"2009-10-24T04:00","p":1.2},{"t":"2009-10-24T23:00","p":8.0},{"t":"2009-10-25T12:00","p":3.0},{"t":"2009-10-27T01:00","p":7.2},{"t":"2009-10-27T12:00","p":5.0},{"t":"2009-10-28T16:00","p":3.9},{"t":"2009-10-28T21:00","p":4.2},{"t":"2009-10-29T18:00","p":3.5},
{"t":"2009-10-31T07:00","p":23.7},{"t":"2009-10-31T07:00","p":22.3},{"t":"2009-10-31T07:00","p":20.3},{"t":"2009-10-31T09:00","p":18.4},{"t":"2009-10-31T09:00","p":17.1},{"t":"2009-10-31T10:00","p":15.7},{"t":"2009-10-31T10:00","p":15.3},{"t":"2009-10-31T12:00","p":13.0},{"t":"2009-10-31T12:00","p":12.6},{"t":"2009-10-31T13:00","p":12.1},{"t":"2009-10-31T13:00","p":11.6},{"t":"2009-10-31T15:00","p":11.2},{"t":"2009-10-31T15:00","p":10.7},{"t":"2009-10-31T17:00","p":10.1},{"t":"2009-10-31T17:00","p":9.0},{"t":"2009-10-31T18:00","p":8.0},{"t":"2009-10-31T18:00","p":7.0},{"t":"2009-10-31T20:00","p":6.3},{"t":"2009-10-31T20:00","p":5.6},{"t":"2009-10-31T21:00","p":5.0},{"t":"2009-10-31T21:00","p":4.3},{"t":"2009-10-31T23:00","p":3.7},{"t":"2009-11-01T01:00","p":3.0},{"t":"2009-11-01T02:00","p":2.4},{"t":"2009-11-01T06:00","p":1.8},{"t":"2009-11-01T11:00","p":1.2},
{"t":"2009-10-30T05:00","p":4.0},{"t":"2009-10-30T21:00","p":2.5},{"t":"2009-11-01T22:00","p":3.5},{"t":"2009-11-02T14:00","p":5.0},{"t":"2009-11-03T06:00","p":2.2},{"t":"2009-11-03T22:00","p":4.4},{"t":"2009-11-04T14:00","p":1.5},{"t":"2009-11-05T12:00","p":9.4},{"t":"2009-11-05T23:00","p":3.0},{"t":"2009-11-06T15:00","p":5.2},{"t":"2009-11-07T07:00","p":2.0},{"t":"2009-11-07T23:00","p":3.8},{"t":"2009-11-08T15:00","p":1.0},{"t":"2009-11-09T08:00","p":2.6},
{"t":"2009-11-11T03:00","p":9.9},{"t":"2009-11-11T03:00","p":9.3},{"t":"2009-11-11T05:00","p":8.6},{"t":"2009-11-11T05:00","p":8.0},{"t":"2009-11-11T06:00","p":7.4},{"t":"2009-11-11T06:00","p":6.8},{"t":"2009-11-11T08:00","p":6.2},{"t":"2009-11-11T08:00","p":5.6},{"t":"2009-11-11T10:00","p":5.0},{"t":"2009-11-11T10:00","p":4.4},{"t":"2009-11-11T11:00","p":3.8},{"t":"2009-11-11T13:00","p":3.2},{"t":"2009-11-11T15:00","p":2.5},{"t":"2009-11-11T16:00","p":1.8},{"t":"2009-11-12T00:00","p":1.0},{"t":"2009-11-10T13:00","p":9.8},
{"t":"2009-11-12T17:00","p":2.8},{"t":"2009-11-13T09:00","p":1.5},{"t":"2009-11-14T01:00","p":3.4},{"t":"2009-11-14T17:00","p":0.8},{"t":"2009-11-15T09:00","p":2.0},{"t":"2009-11-16T18:00","p":1.2},{"t":"2009-11-17T21:00","p":4.4},{"t":"2009-11-17T21:00","p":2.5},{"t":"2009-11-19T10:00","p":1.0},{"t":"2009-11-21T11:00","p":0.6},{"t":"2009-11-22T19:00","p":1.4},
{"t":"2009-11-25T17:00","p":7.2},{"t":"2009-11-25T17:00","p":6.6},{"t":"2009-11-25T18:00","p":6.1},{"t":"2009-11-25T20:00","p":5.4},{"t":"2009-11-25T20:00","p":5.0},{"t":"2009-11-25T21:00","p":4.1},{"t":"2009-11-25T23:00","p":3.4},{"t":"2009-11-26T00:00","p":2.6},{"t":"2009-11-26T04:00","p":1.8},{"t":"2009-11-26T12:00","p":1.0},
{"t":"2009-12-04T14:00","p":8.8},{"t":"2009-12-04T15:00","p":6.7},{"t":"2009-12-04T17:00","p":6.2},{"t":"2009-12-04T17:00","p":5.8},{"t":"2009-12-04T19:00","p":5.2},{"t":"2009-12-04T19:00","p":4.7},{"t":"2009-12-04T20:00","p":4.1},{"t":"2009-12-04T22:00","p":3.5},{"t":"2009-12-04T22:00","p":2.9},{"t":"2009-12-05T01:00","p":2.2},{"t":"2009-12-05T06:00","p":1.5},{"t":"2009-12-05T14:00","p":0.8},{"t":"2009-12-06T06:00","p":2.0},{"t":"2009-12-07T15:00","p":1.0},
{"t":"2009-12-10T07:00","p":1.2},{"t":"2009-12-12T23:00","p":0.7},{"t":"2009-12-15T00:00","p":1.6},{"t":"2009-12-16T22:00","p":4.5},{"t":"2009-12-17T01:00","p":3.8},{"t":"2009-12-17T04:00","p":3.2},{"t":"2009-12-17T07:00","p":2.4},{"t":"2009-12-17T11:00","p":1.8},{"t":"2009-12-17T17:00","p":1.2},{"t":"2009-12-19T18:00","p":2.1},{"t":"2009-12-21T02:00","p":0.8},{"t":"2009-12-22T10:00","p":1.5},{"t":"2009-12-23T19:00","p":2.4},{"t":"2009-12-25T08:00","p":2.2},{"t":"2009-12-26T11:00","p":1.0},{"t":"2009-12-28T05:00","p":2.9},{"t":"2009-12-29T04:00","p":1.5},{"t":"2009-12-30T12:00","p":0.8},{"t":"2009-12-31T21:00","p":1.1}
]
},
"layer":[
 {
  "layer":[
   {
    "data":{"values":[{}]},
    "mark":{"type":"rect","fill":"transparent","stroke":"black","strokeWidth":2.5,"cornerRadius":14},
    "encoding":{
     "x":{"datum":{"year":2008,"month":9,"date":5,"hours":12},"type":"temporal"},
     "x2":{"datum":{"year":2010,"month":3,"date":10,"hours":14}},
     "y":{"datum":1556,"type":"quantitative"},
     "y2":{"datum":-494}
    }
   },
   {
    "data":{"name":"gasto"},
    "mark":{"type":"line","strokeWidth":3,"strokeJoin":"round"},
    "encoding":{
     "x":{"field":"t","type":"temporal",
      "scale":{"domain":[{"year":2008,"month":10,"date":29},{"year":2010,"month":1,"date":22}]},
      "axis":{"values":[{"year":2008,"month":10,"date":29},{"year":2008,"month":12,"date":18},{"year":2009,"month":2,"date":6},{"year":2009,"month":3,"date":28},{"year":2009,"month":5,"date":17},{"year":2009,"month":7,"date":6},{"year":2009,"month":8,"date":25},{"year":2009,"month":10,"date":14},{"year":2009,"month":12,"date":3},{"year":2010,"month":1,"date":22}],
       "format":"%d/%m/%Y","labelAngle":90,"labelFlush":false,"labelOverlap":false,"labelPadding":7,
       "grid":true,"gridDash":[6,4],
       "title":"Tiempo (dd/mm/aaaa  hh:mm)","titleX":378,"titleY":114,"titleAlign":"center","titleBaseline":"middle"}},
     "y":{"field":"q","type":"quantitative","scale":{"domain":[0,1400]},
      "axis":{"values":[0,200,400,600,800,1000,1200,1400],"format":"d","grid":true,"gridDash":[4,2],"labelPadding":10,
       "title":"Gasto  (m³/s)","titleAngle":270,"titleX":-55,"titleY":207,"titleAlign":"center","titleBaseline":"middle"}},
     "color":{"datum":"Gasto (m3/s)","type":"nominal",
      "scale":{"domain":["Gasto (m3/s)","Precipitación (mm)"],"range":["#1F497D","#00B0F0"]},
      "legend":{"title":null,"orient":"none","legendX":453,"legendY":-9.3,"direction":"vertical",
       "strokeColor":"black","fillColor":"white","padding":10,
       "symbolSize":256,"symbolOffset":6.5,"labelOffset":9,"rowPadding":18,
       "labelFont":"Liberation Serif","labelFontSize":18,"labelColor":"black","labelLimit":400,
       "symbolType":"M-2,0H2","symbolStrokeWidth":3,
       "encode":{"symbols":{"update":{
        "shape":{"signal":"datum.value === 'Gasto (m3/s)' ? 'M-2,0H2' : 'circle'"},
        "size":{"signal":"datum.value === 'Gasto (m3/s)' ? 256 : 22"},
        "stroke":{"signal":"datum.value === 'Gasto (m3/s)' ? '#1F497D' : 'transparent'"},
        "fill":{"signal":"datum.value === 'Gasto (m3/s)' ? 'transparent' : '#00B0F0'"},
        "strokeWidth":{"value":3},
        "opacity":{"value":1}
       }}}}
     }
    }
   },
   {
    "data":{"values":[{}]},
    "mark":{"type":"rect","fill":"white","stroke":"black","strokeWidth":1.5},
    "encoding":{
     "x":{"datum":{"year":2008,"month":11,"date":3,"hours":22},"type":"temporal"},
     "x2":{"datum":{"year":2009,"month":6,"date":30,"hours":2}},
     "y":{"datum":1499,"type":"quantitative"},
     "y2":{"datum":1277}
    }
   },
   {
    "data":{"values":[{}]},
    "mark":{"type":"text","text":["Cuenca propia de la C.H. Peñitas","Est. Sayula (2009)"],"font":"Liberation Serif","fontSize":24,"fontWeight":"bold","align":"center","baseline":"alphabetic","lineHeight":25,"color":"black"},
    "encoding":{
     "x":{"datum":{"year":2009,"month":3,"date":2,"hours":12},"type":"temporal"},
     "y":{"datum":1403.7,"type":"quantitative"}
    }
   }
  ]
 },
 {
  "data":{"name":"precip"},
  "mark":{"type":"point","filled":true,"shape":"circle","size":22,"opacity":1},
  "encoding":{
   "x":{"field":"t","type":"temporal"},
   "y":{"field":"p","type":"quantitative","scale":{"domain":[0,35]},
    "axis":{"orient":"right","values":[0,5,10,15,20,25,30,35],"format":"d","grid":false,"labelPadding":10,
     "title":"Precipitación  (mm)","titleAngle":270,"titleX":57,"titleY":180,"titleAlign":"center","titleBaseline":"middle"}},
   "color":{"datum":"Precipitación (mm)","type":"nominal"}
  }
 }
],
"resolve":{"scale":{"y":"independent"}}
}
